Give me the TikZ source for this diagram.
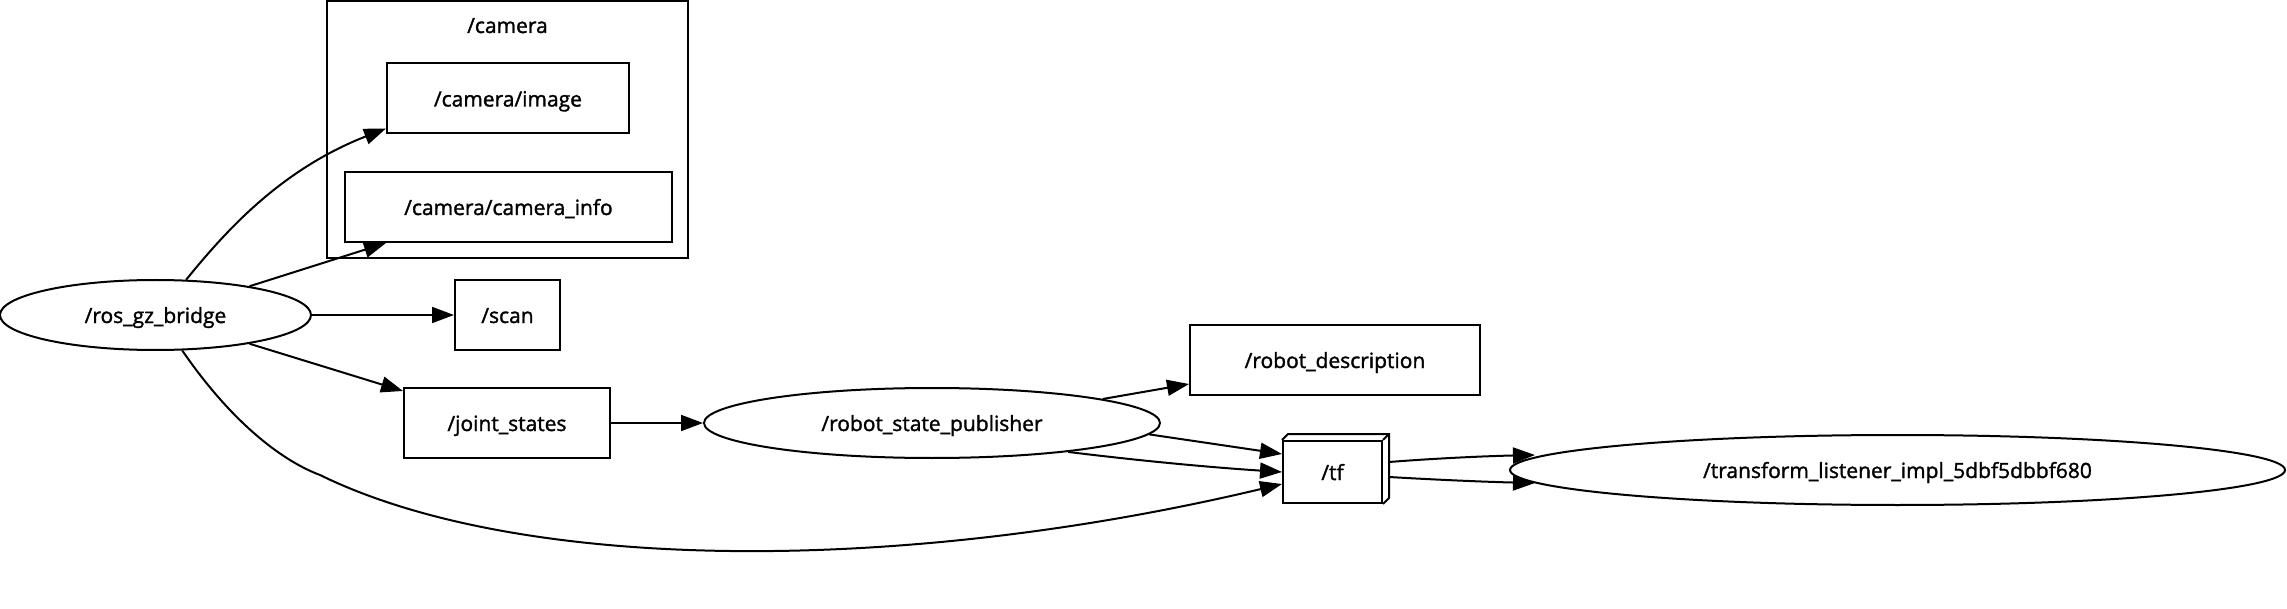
\documentclass[tikz,border=0pt]{standalone}
\usepackage{fontspec}
\setmainfont{Open Sans}[FakeBold=1.5]
\usetikzlibrary{arrows.meta,shapes.geometric}
\begin{document}
\begin{tikzpicture}[x=0.5pt,y=-0.5pt, line width=1pt,
  every node/.style={font=\fontsize{10.5}{12}\selectfont, inner sep=0pt, text height=8.5pt, text depth=0.5pt},
  topic/.style={draw, rectangle, minimum height=35pt},
  proc/.style={draw, ellipse, minimum height=35pt},
  arr/.style={-{Triangle[length=11pt,width=8pt]}}]
\useasboundingbox (0,0) rectangle (2287,609);
% cluster
\node[draw, minimum width=180.5pt, minimum height=128.5pt] (cam) at (507.5,129.5) {};
\node (camlabel) at (507.5,25) {/camera};
% nodes
\node[proc, minimum width=155.5pt] (bridge) at (155.5,315) {/ros\_gz\_bridge};
\node[topic, minimum width=121pt] (image) at (508,98.5) {/camera/image};
\node[topic, minimum width=163.5pt] (info) at (508.5,207) {/camera/camera\_info};
\node[topic, minimum width=52.5pt] (scan) at (507.5,315) {/scan};
\node[topic, minimum width=103pt] (js) at (507,423) {/joint\_states};
\node[proc, minimum width=228pt] (rsp) at (932,423) {/robot\_state\_publisher};
\node[topic, minimum width=145pt] (rd) at (1335,360) {/robot\_description};
\node[draw, minimum width=49.5pt, minimum height=31pt] (tf) at (1332.5,472) {/tf};
\draw[line join=miter] (tf.north west) -- ++(6,-6) -- ([shift={(6,-6)}]tf.north east) -- ([shift={(6,-6)}]tf.south east) -- (tf.south east);
\draw (tf.north east) -- ++(6,-6);
\node[proc, minimum width=387.5pt] (tl) at (1897.5,470) {/transform\_listener\_impl\_5dbf5dbbf680};
% edges
\draw[arr] (bridge.49) .. controls (225,232) and (280,170) .. ([yshift=3pt]image.south west);
\draw[arr] (bridge.17) -- ([xshift=21pt]info.south west);
\draw[arr] (bridge.east) -- (scan.west);
\draw[arr] (bridge.-17) -- ([yshift=-2pt]js.north west);
\draw[arr] (bridge.-53) .. controls (230,420) and (280,460) .. (320,475) .. controls (520,573) and (900,575) .. ([yshift=-6pt]tf.west);
\draw[arr] (js.east) -- (rsp.west);
\draw[arr] (rsp.8) -- ([yshift=-12pt]rd.west);
\draw[arr] (rsp.-3) -- ([yshift=9pt]tf.west);
\draw[arr] (rsp.-12) .. controls (1150,462) and (1220,468) .. (tf.west);
\draw[arr] ([xshift=3pt,yshift=5pt]tf.east) .. controls (1440,458) and (1490,456) .. ([xshift=13pt,yshift=7.5pt]tl.west);
\draw[arr] ([xshift=3pt,yshift=-2.5pt]tf.east) .. controls (1440,480) and (1490,482) .. ([xshift=13pt,yshift=-6.5pt]tl.west);
\end{tikzpicture}
\end{document}
